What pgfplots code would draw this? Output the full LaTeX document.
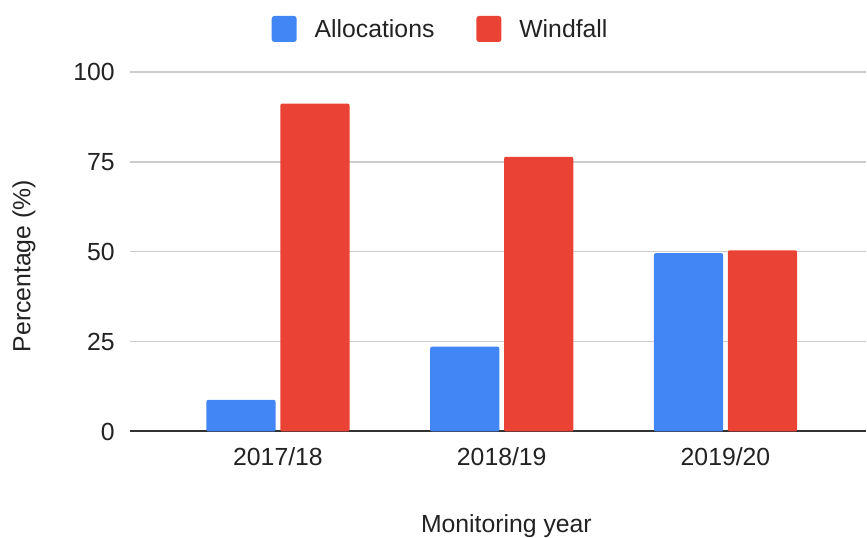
\documentclass[border=0pt]{standalone}
\usepackage{fontspec}
\setmainfont{Liberation Sans}
\usepackage{pgfplots}
\pgfplotsset{compat=1.18}
\definecolor{gblue}{HTML}{4285F4}
\definecolor{gred}{HTML}{EA4335}
\definecolor{txt}{HTML}{222222}
\definecolor{gridc}{HTML}{CCCCCC}
\definecolor{basec}{HTML}{333333}
\newcommand{\lbl}{\fontsize{18.6}{22}\selectfont}
\begin{document}
\begin{tikzpicture}
\begin{axis}[
  scale only axis,
  width=552.75pt, height=270pt,
  ymin=0, ymax=100, ytick={0,25,50,75,100},
  xmin=-0.662, xmax=2.628,
  xtick={0,1,2}, xticklabels={2017/18,2018/19,2019/20},
  axis x line*=bottom, axis y line*=left,
  y axis line style={draw=none},
  x axis line style={draw=basec, line width=1.5pt, -},
  major tick length=0pt,
  ymajorgrids, grid style={draw=gridc, line width=1.1pt},
  tick label style={font=\lbl, text=txt},
  yticklabel style={anchor=east, inner sep=0pt, xshift=-11.25pt},
  xticklabel style={anchor=north, inner sep=0pt, yshift=-12pt},
  /pgf/number format/assume math mode=true,
  ylabel={Percentage (\%)},
  xlabel={Monitoring year},
  every axis y label/.style={at={(axis description cs:-0.1438,0.46)}, rotate=90, anchor=center, font=\lbl, text=txt, inner sep=0pt},
  every axis x label/.style={at={(axis description cs:0.5115,0)}, anchor=base, yshift=-75.75pt, font=\lbl, text=txt, inner sep=0pt},
  ybar, bar width=52pt,
  legend columns=2,
  legend style={at={(axis description cs:0.1927,1)}, anchor=west, yshift=32.25pt,
    draw=none, fill=none, inner sep=0pt, outer sep=0pt, font=\lbl, text=txt,
    nodes={inner sep=0pt},
    /tikz/every odd column/.append style={column sep=13.5pt},
    /tikz/every even column/.append style={column sep=31.5pt}},
  legend image code/.code={\fill[#1, rounded corners=2pt] (0pt,-9pt) rectangle (18.75pt,10.5pt);},
  clip=false,
]
\addplot[fill=gblue, draw=none, bar shift=-27.75pt, rounded corners=1.5pt] coordinates {(0,8.8) (1,23.6) (2,49.6)};
\addlegendentry{Allocations}
\addplot[fill=gred, draw=none, bar shift=27.75pt, rounded corners=1.5pt] coordinates {(0,91.2) (1,76.4) (2,50.4)};
\addlegendentry{Windfall}
\path[use as bounding box] (rel axis cs:0,0) ++(-97.5pt,-76.5pt) rectangle (rel axis cs:1,1) ++(0pt,54pt);
\end{axis}
\end{tikzpicture}
\end{document}
